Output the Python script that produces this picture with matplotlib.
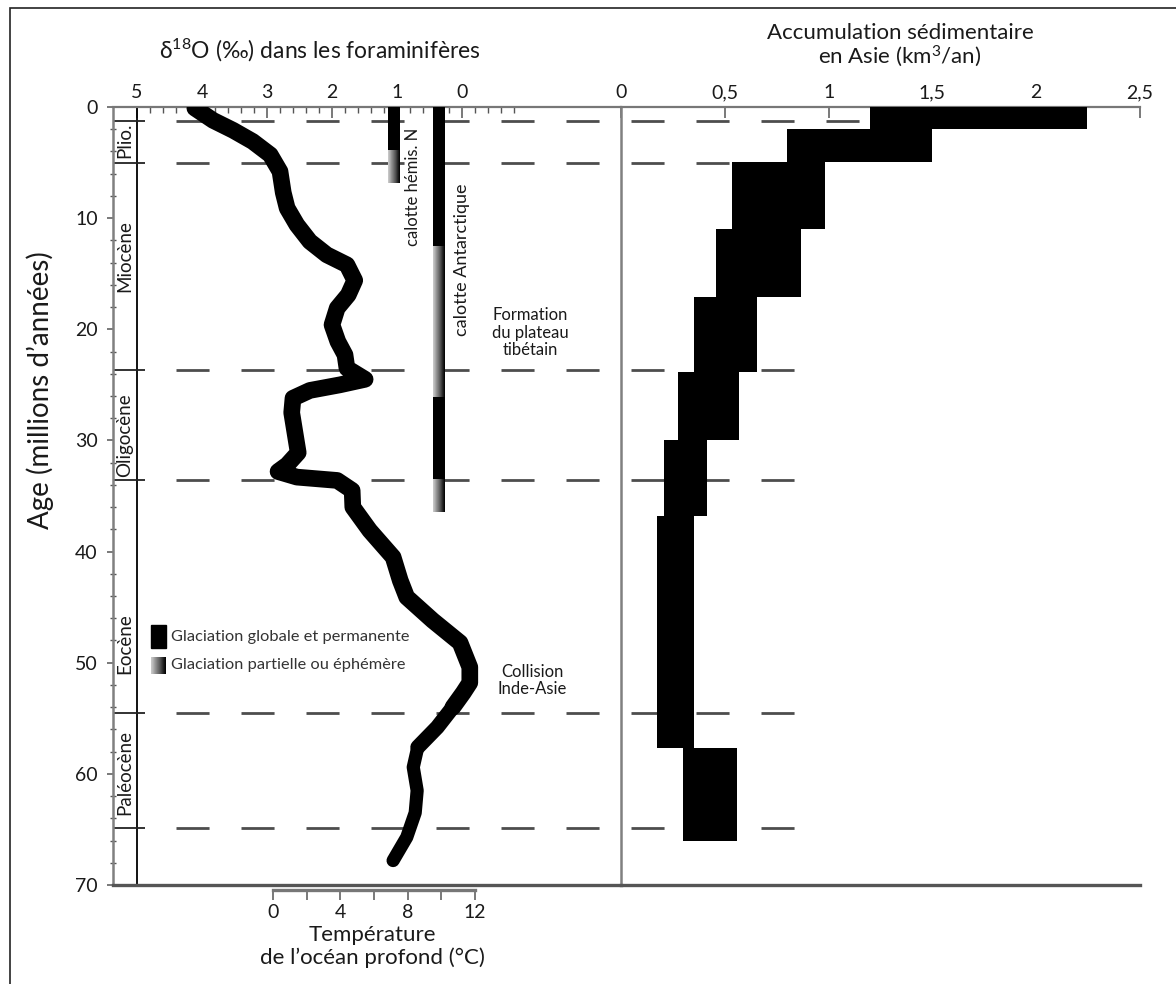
import matplotlib.pyplot as plt
from matplotlib.patches import Rectangle
from matplotlib.ticker import FixedLocator, MultipleLocator
import numpy as np

plt.rcParams['font.family'] = ['Lato', 'DejaVu Sans']
plt.rcParams['mathtext.fontset'] = 'custom'
plt.rcParams['mathtext.rm'] = 'Lato'
plt.rcParams['mathtext.it'] = 'Lato:italic'
plt.rcParams['lines.scale_dashes'] = False

# courbe delta18O (age en Ma, valeur en pour mille)
age_d18o = [0.1, 1.2, 2.1, 3.1, 4.3, 5.8, 7.7, 9.1, 10.6, 12.1, 13.3, 14.2,
            15.6, 16.9, 18.1, 19.6, 21.1, 22.3, 23.5, 24.5, 25.0, 25.5, 26.2,
            27.5, 29.3, 31.1, 32.2, 32.8, 33.3, 33.6, 34.5, 36.0, 38.1, 40.5,
            42.6, 44.1, 46.2, 48.2, 50.4, 51.8, 52.7, 54.0, 55.8, 57.6, 59.4,
            61.5, 63.5, 65.7, 67.8]
d18o = [4.11, 3.83, 3.52, 3.22, 2.95, 2.80, 2.75, 2.69, 2.54, 2.34, 2.08, 1.77,
        1.65, 1.75, 1.92, 2.00, 1.91, 1.80, 1.77, 1.49, 1.88, 2.34, 2.60,
        2.62, 2.57, 2.52, 2.69, 2.83, 2.54, 1.92, 1.69, 1.68, 1.42, 1.06,
        0.95, 0.85, 0.45, 0.03, -0.12, -0.12, -0.02, 0.14, 0.38, 0.68, 0.75,
        0.69, 0.72, 0.85, 1.06]
# epaisseur du trait : plus fin vers la base
taper_ages = [54.0, 57.6]
taper_widths = [12, 10.8, 9.5]

# accumulation sedimentaire en Asie (km3/an)
sed_top = [0.0, 2.0, 4.95, 11.0, 17.1, 23.85, 30.0, 36.8, 57.7]
sed_bottom = [2.0, 4.95, 11.0, 17.1, 23.85, 30.0, 36.8, 57.7, 66.0]
sed_min = [1.20, 0.80, 0.535, 0.46, 0.35, 0.275, 0.205, 0.173, 0.30]
sed_max = [2.245, 1.50, 0.985, 0.865, 0.655, 0.57, 0.415, 0.35, 0.56]

# epoques
boundaries = [1.3, 5.0, 23.7, 33.6, 54.5, 64.9]
epoch_names = ['Plio.', 'Miocène', 'Oligocène', 'Eocène', 'Paléocène']
epoch_label_age = [3.0, 13.4, 29.5, 48.3, 59.9]

# calottes glaciaires
ice_nh_pos = 1.05
ice_nh_start = [0.0, 3.9]
ice_nh_end = [3.9, 6.8]
ice_nh_kind = ['global', 'partiel']
ice_ant_pos = 0.354
ice_ant_start = [0.0, 12.6, 26.1, 33.5]
ice_ant_end = [12.6, 26.1, 33.5, 36.4]
ice_ant_kind = ['global', 'partiel', 'global', 'partiel']

d18o_ticks = [5, 4, 3, 2, 1, 0]
sed_ticks = [0, 0.5, 1, 1.5, 2, 2.5]
sed_ticklabels = ['0', '0,5', '1', '1,5', '2', '2,5']
temp_ticks = [0, 4, 8, 12]

W, H = 1176, 984
TXT = '#1a1a1a'


def fx(px):
    return px / W


def fy(py):
    return 1 - py / H


def px_to_d18o(px):
    # 5 at x=137 px, 65 px per unit, decreasing to the right
    return 5 - (px - 137) / 65


fig = plt.figure(figsize=(W / 100, H / 100), dpi=100)

ax = fig.add_axes([fx(113), fy(885), fx(621) - fx(113), fy(107) - fy(885)])
ax2 = fig.add_axes([fx(621), fy(885), fx(1140) - fx(621), fy(107) - fy(885)])
ax2.patch.set_facecolor('none')

ax.set_xlim(px_to_d18o(113), px_to_d18o(621))
ax.set_ylim(70, 0)
ax2.set_xlim(0, 2.5)
ax2.set_ylim(70, 0)

for a in (ax, ax2):
    a.spines['right'].set_visible(False)
    a.spines['top'].set_color('#777777')
    a.spines['top'].set_linewidth(1.6)
    a.spines['bottom'].set_color('#555555')
    a.spines['bottom'].set_linewidth(2.4)
    a.spines['left'].set_color('#808080')
    a.spines['left'].set_linewidth(1.8)

# axe delta18O en haut
ax.xaxis.tick_top()
ax.set_xticks(d18o_ticks)
ax.set_xticklabels([str(t) for t in d18o_ticks])
ax.xaxis.set_minor_locator(FixedLocator(np.arange(-0.8, 5.01, 0.2)))
ax.tick_params(axis='x', which='major', direction='in', length=8, width=1.1,
               color='#555555', labelsize=14, pad=4, labelcolor=TXT)
ax.tick_params(axis='x', which='minor', direction='in', length=4, width=1.0,
               color='#555555')

# axe des ages
ax.set_yticks(range(0, 71, 10))
ax.yaxis.set_minor_locator(MultipleLocator(2))
ax.tick_params(axis='y', which='major', direction='out', length=4, width=1.1,
               color='#555555', labelsize=14, pad=7, labelcolor=TXT)
ax.tick_params(axis='y', which='minor', direction='inout', length=4, width=1.0,
               color='#555555')

# axe accumulation en haut a droite
ax2.xaxis.tick_top()
ax2.set_xticks(sed_ticks)
ax2.set_xticklabels(sed_ticklabels)
ax2.tick_params(axis='x', direction='in', length=8, width=1.1,
                color='#555555', labelsize=14, pad=4, labelcolor=TXT)
ax2.tick_params(axis='y', left=False, labelleft=False)

# colonne des epoques et limites
ax.axvline(5, color='black', lw=1.3, zorder=2)
ax.hlines(boundaries, px_to_d18o(113), px_to_d18o(145), color='#222222',
          lw=1.3, zorder=2)
dash = [(0, (23.8, 23.0))]
ax.hlines(boundaries, px_to_d18o(176), px_to_d18o(621), color='#4d4d4d',
          lw=2.0, linestyles=dash, zorder=1)
sed_per_px = 2.5 / (1140 - 621)
dash_end = [1.15 if i == 0 else 0.86 for i in range(len(boundaries))]
ax2.hlines(boundaries, 10 * sed_per_px, dash_end, color='#4d4d4d',
           lw=2.0, linestyles=dash, zorder=1)
for name, age in zip(epoch_names, epoch_label_age):
    ax.text(px_to_d18o(125), age, name, rotation=90, ha='center', va='center',
            fontsize=13.5, color=TXT)

# calottes
bar_w = 0.18
grad = np.linspace(0, 1, 40).reshape(1, -1)


def draw_ice(pos, starts, ends, kinds):
    for s, e, k in zip(starts, ends, kinds):
        if k == 'global':
            ax.bar(pos, e - s, bottom=s, width=bar_w, color='black', zorder=3)
        else:
            ax.imshow(grad, cmap='Greys', vmin=-0.45, vmax=1.0, aspect='auto',
                      extent=(pos + bar_w / 2, pos - bar_w / 2, e, s),
                      interpolation='bilinear', zorder=3)


draw_ice(ice_nh_pos, ice_nh_start, ice_nh_end, ice_nh_kind)
draw_ice(ice_ant_pos, ice_ant_start, ice_ant_end, ice_ant_kind)

ax.text(px_to_d18o(413), 7.2, 'calotte hémis. N', rotation=90, ha='center',
        va='center', fontsize=12, color=TXT)
ax.text(px_to_d18o(462), 13.7, 'calotte Antarctique', rotation=90, ha='center',
        va='center', fontsize=13, color=TXT)

# courbe delta18O, en trois troncons d'epaisseur decroissante
age_arr = np.array(age_d18o)
d_arr = np.array(d18o)
cuts = [-1] + taper_ages + [100]
for i, lw in enumerate(taper_widths):
    sel = (age_arr >= cuts[i]) & (age_arr <= cuts[i + 1])
    ax.plot(d_arr[sel], age_arr[sel], color='black', lw=lw,
            solid_capstyle='round', solid_joinstyle='round', zorder=5)

# annotations
ax.text(px_to_d18o(530), 20.3, 'Formation\ndu plateau\ntibétain', ha='center',
        va='center', fontsize=12, linespacing=1.1, color=TXT)
ax.text(px_to_d18o(532), 51.6, 'Collision\nInde-Asie', ha='center',
        va='center', fontsize=12, linespacing=1.1, color=TXT)

# legende glaciation
ax.add_patch(Rectangle((px_to_d18o(166), 46.6), px_to_d18o(151) - px_to_d18o(166),
                       2.1, color='black', zorder=3))
ax.imshow(grad, cmap='Greys', vmin=-0.45, vmax=1.0, aspect='auto',
          extent=(px_to_d18o(151), px_to_d18o(166), 51.0, 49.5),
          interpolation='bilinear', zorder=3)
ax.text(px_to_d18o(171), 47.7, 'Glaciation globale et permanente', ha='left',
        va='center', fontsize=11.8, color='#333333')
ax.text(px_to_d18o(171), 50.2, 'Glaciation partielle ou éphémère', ha='left',
        va='center', fontsize=11.8, color='#333333')
ax.set_xlim(px_to_d18o(113), px_to_d18o(621))
ax.set_ylim(70, 0)

# accumulation sedimentaire
ax2.barh(sed_top, np.array(sed_max) - np.array(sed_min), left=sed_min,
         height=np.array(sed_bottom) - np.array(sed_top), align='edge',
         color='black', zorder=3)

# axe temperature
axT = fig.add_axes([fx(273), fy(890), fx(475) - fx(273), 0.0001])
axT.patch.set_facecolor('none')
axT.set_xlim(0, 12)
for s in ('top', 'left', 'right'):
    axT.spines[s].set_visible(False)
axT.spines['bottom'].set_color('#777777')
axT.spines['bottom'].set_linewidth(2.4)
axT.set_yticks([])
axT.set_xticks(temp_ticks)
axT.xaxis.set_minor_locator(MultipleLocator(2))
axT.tick_params(axis='x', which='both', direction='out', length=7, width=1.1,
                color='#555555', labelsize=14, pad=3, labelcolor=TXT)

# titres
fig.text(fx(320), fy(50), 'δ$^{18}$O (‰) dans les foraminifères', ha='center',
         va='center', fontsize=16.5, color=TXT)
fig.text(fx(900), fy(46), 'Accumulation sédimentaire\nen Asie (km$^3$/an)',
         ha='center', va='center', fontsize=16, linespacing=1.05, color=TXT)
fig.text(fx(40), fy(390), 'Age (millions d’années)', rotation=90, ha='center',
         va='center', fontsize=20, color=TXT)
fig.text(fx(372), fy(935), 'Température', ha='center', va='center',
         fontsize=16, color=TXT)
fig.text(fx(372), fy(958), 'de l’océan profond (°C)', ha='center',
         va='center', fontsize=16, color=TXT)

# cadre
fig.patches.append(Rectangle((fx(10), fy(1000)), fx(1190) - fx(10),
                             fy(8) - fy(1000), transform=fig.transFigure,
                             fill=False, lw=1.2, edgecolor='#222222'))

fig.savefig('out.png', dpi=100)
